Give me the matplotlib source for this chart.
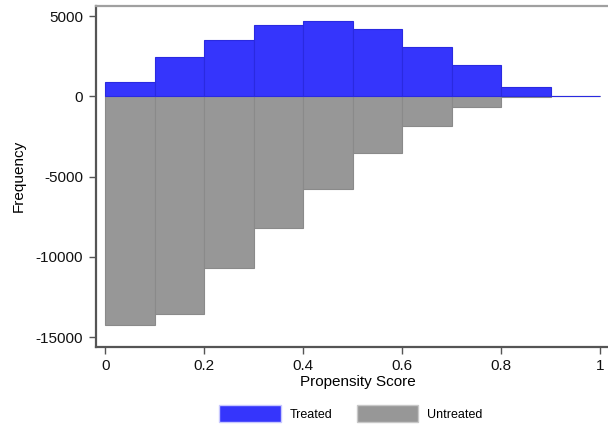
import matplotlib
matplotlib.use("Agg")
import matplotlib.pyplot as plt
from matplotlib.patches import Patch
import numpy as np

plt.rcParams['font.family'] = ['Liberation Sans', 'DejaVu Sans']

# Histogram bins of the propensity score
bin_left = [0.0, 0.1, 0.2, 0.3, 0.4, 0.5, 0.6, 0.7, 0.8, 0.9]
bin_width = 0.1

# Counts per bin (untreated drawn as negative frequencies)
treated = [910, 2470, 3520, 4460, 4670, 4210, 3090, 1950, 600, 15]
untreated = [-14240, -13570, -10710, -8220, -5790, -3550, -1830, -690, -40, 0]

x_ticks = [0, 0.2, 0.4, 0.6, 0.8, 1]
x_tick_labels = ["0", "0.2", "0.4", "0.6", "0.8", "1"]
y_ticks = [5000, 0, -5000, -10000, -15000]
y_tick_labels = ["5000", "0", "-5000", "-10000", "-15000"]

blue = "#3535fc"
gray = "#979797"

fig = plt.figure(figsize=(6.08, 4.29), dpi=100)
W, H = 608, 429
left_px, right_px, top_px, bottom_px = 95.7, 620, 6, 346.7
ax = fig.add_axes([left_px / W, 1 - bottom_px / H,
                   (right_px - left_px) / W, (bottom_px - top_px) / H])

ax.bar(bin_left, untreated, width=bin_width, align="edge", color=gray,
       edgecolor="#8a8a8a", linewidth=0.8, zorder=2)
ax.bar(bin_left, treated, width=bin_width, align="edge", color=blue,
       edgecolor="#2a2ae0", linewidth=0.8, zorder=3)

x0_px, xscale = 105.3, 494.7
ax.set_xlim((left_px - x0_px) / xscale, (right_px - x0_px) / xscale)
y0_px, yscale = 96.3, 80.3 / 5000
ax.set_ylim(-(bottom_px - y0_px) / yscale, (y0_px - top_px) / yscale)

ax.set_xticks(x_ticks)
ax.set_xticklabels(x_tick_labels)
ax.set_yticks(y_ticks)
ax.set_yticklabels(y_tick_labels)
ax.tick_params(axis="both", direction="out", length=5, width=1.0,
               color="#555555", labelsize=11, labelcolor="#111111", pad=4)

for side in ["left", "bottom"]:
    ax.spines[side].set_color("#555555")
    ax.spines[side].set_linewidth(1.6)
ax.spines["top"].set_color("#a0a0a0")
ax.spines["top"].set_linewidth(1.6)
ax.spines["right"].set_visible(False)

ax.set_xlabel("Propensity Score", fontsize=11, labelpad=1)
ax.set_ylabel("Frequency", fontsize=11, labelpad=7.5)

handles = [Patch(facecolor=blue, edgecolor="#c8c8ff", label="Treated"),
           Patch(facecolor=gray, edgecolor="#c8c8c8", label="Untreated")]
fig.legend(handles=handles, loc="center", bbox_to_anchor=(351 / W, 1 - 413.5 / H),
           ncol=2, frameon=False, fontsize=9, handlelength=4.9, handleheight=1.8,
           columnspacing=2.0, handletextpad=0.7)

fig.savefig("out.png", dpi=100)
